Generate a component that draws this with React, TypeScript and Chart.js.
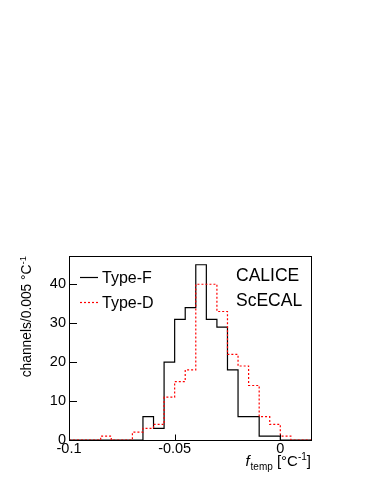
import React, { useEffect, useRef } from "react";
import { Chart, registerables } from "chart.js";

Chart.register(...registerables);

// ---- data ----
const binLow = -0.1;
const binWidth = 0.005;
const xMin = -0.1;
const xMax = 0.015;
const yMin = 0;
const yMax = 47.25;
const typeF = [0, 0, 0, 0, 0, 0, 0, 6, 3, 20, 31, 34, 45, 31, 29, 18, 6, 6, 1, 1, 0, 0, 0];
const typeD = [0, 0, 0, 1, 0, 0, 2, 3, 4, 11, 15, 18, 40, 40, 33, 22, 19, 14, 6, 4, 1, 0, 0];
const xTicks = [-0.1, -0.05, 0];
const yTicks = [0, 10, 20, 30, 40];
const seriesNames = ["Type-F", "Type-D"];
const labelLines = ["CALICE", "ScECAL"];

const FONT = "'Liberation Sans', Arial, Helvetica, sans-serif";

function toSteps(counts: number[]) {
  const pts = counts.map((c, i) => ({ x: binLow + i * binWidth, y: c }));
  pts.push({ x: binLow + counts.length * binWidth, y: counts[counts.length - 1] });
  return pts;
}

const decorPlugin = {
  id: "decor",
  afterDraw(chart: any) {
    const ctx = chart.ctx as CanvasRenderingContext2D;
    const { left, right, top, bottom } = chart.chartArea;
    const xs = chart.scales.x;
    const ys = chart.scales.y;
    ctx.save();
    // frame
    ctx.strokeStyle = "#000";
    ctx.lineWidth = 1;
    ctx.setLineDash([]);
    ctx.strokeRect(left + 0.5, top + 0.5, right - left - 1, bottom - top);
    // inward ticks
    ctx.beginPath();
    for (const v of yTicks) {
      const y = Math.round(ys.getPixelForValue(v)) + 0.5;
      ctx.moveTo(left, y);
      ctx.lineTo(left + 8, y);
    }
    for (const v of xTicks) {
      const x = Math.round(xs.getPixelForValue(v)) + 0.5;
      ctx.moveTo(x, bottom);
      ctx.lineTo(x, bottom - 5.5);
    }
    ctx.stroke();

    // legend
    const legendX0 = 80;
    const legendX1 = 98;
    const legendRows = [277, 302];
    ctx.font = `16px ${FONT}`;
    ctx.fillStyle = "#000";
    ctx.textBaseline = "alphabetic";
    ctx.textAlign = "left";
    chart.data.datasets.forEach((ds: any, i: number) => {
      const y = legendRows[i] + 0.5;
      ctx.strokeStyle = ds.borderColor;
      ctx.lineWidth = ds.borderWidth;
      ctx.setLineDash(ds.borderDash || []);
      ctx.beginPath();
      ctx.moveTo(legendX0, y);
      ctx.lineTo(legendX1, y);
      ctx.stroke();
      ctx.setLineDash([]);
      ctx.fillText(ds.label, 102, legendRows[i] + 5.5);
    });

    // CALICE label
    ctx.font = `17.5px ${FONT}`;
    ctx.fillText(labelLines[0], 236, 281);
    ctx.fillText(labelLines[1], 236, 305.5);

    // x title: f_temp [°C^-1]
    const mainF = `15px ${FONT}`;
    const italF = `italic 15px ${FONT}`;
    const subF = `10px ${FONT}`;
    const base = 466;
    const parts = [
      { t: "f", f: italF, dy: 0 },
      { t: "temp", f: subF, dy: 3.5 },
      { t: " [°C", f: mainF, dy: 0 },
      { t: "-1", f: subF, dy: -6 },
      { t: "]", f: mainF, dy: 0 },
    ];
    let total = 0;
    for (const p of parts) {
      ctx.font = p.f;
      total += ctx.measureText(p.t).width + (p.t === "f" ? 1 : 0);
    }
    let cx = right - 1 - total;
    for (const p of parts) {
      ctx.font = p.f;
      ctx.fillText(p.t, cx, base + p.dy);
      cx += ctx.measureText(p.t).width + (p.t === "f" ? 1 : 0);
    }

    // y title: channels/0.005 °C^-1 (rotated)
    const yParts = [
      { t: "channels/0.005 °C", f: `13.8px ${FONT}`, dy: 0 },
      { t: "-1", f: `9.5px ${FONT}`, dy: -5.5 },
    ];
    let ytot = 0;
    for (const p of yParts) {
      ctx.font = p.f;
      ytot += ctx.measureText(p.t).width;
    }
    ctx.translate(31, 256);
    ctx.rotate(-Math.PI / 2);
    let yx = -ytot;
    for (const p of yParts) {
      ctx.font = p.f;
      ctx.fillText(p.t, yx, p.dy);
      yx += ctx.measureText(p.t).width;
    }
    ctx.restore();
  },
};

export default function App() {
  const ref = useRef<HTMLCanvasElement | null>(null);
  useEffect(() => {
    if (!ref.current) return;
    const chart = new Chart(ref.current, {
      type: "line",
      data: {
        datasets: [
          {
            label: seriesNames[0],
            data: toSteps(typeF),
            borderColor: "#000000",
            borderWidth: 1.2,
            pointRadius: 0,
            stepped: true,
            fill: false,
            order: 1,
          },
          {
            label: seriesNames[1],
            data: toSteps(typeD),
            borderColor: "#ff0000",
            borderWidth: 1.2,
            borderDash: [2, 2],
            pointRadius: 0,
            stepped: true,
            fill: false,
            order: 0,
          },
        ],
      },
      options: {
        animation: false,
        responsive: false,
        devicePixelRatio: 1,
        layout: { padding: { left: 0, top: 256, right: 62, bottom: 0 } },
        plugins: {
          legend: { display: false },
          tooltip: { enabled: false },
        },
        scales: {
          x: {
            type: "linear",
            min: xMin,
            max: xMax,
            afterBuildTicks: (s: any) => {
              s.ticks = xTicks.map((v) => ({ value: v }));
            },
            afterFit: (s: any) => {
              s.height = 44;
            },
            ticks: {
              autoSkip: false,
              maxRotation: 0,
              minRotation: 0,
              padding: 0,
              color: "#000",
              font: { family: FONT, size: 14.5 },
              callback: (v: any) => String(v),
            },
            grid: { display: false, drawTicks: false },
            border: { display: false },
          },
          y: {
            type: "linear",
            min: yMin,
            max: yMax,
            afterBuildTicks: (s: any) => {
              s.ticks = yTicks.map((v) => ({ value: v }));
            },
            afterFit: (s: any) => {
              s.width = 69;
            },
            ticks: {
              padding: 3,
              color: "#000",
              font: { family: FONT, size: 14.5 },
              callback: (v: any) => String(v),
            },
            grid: { display: false, drawTicks: false },
            border: { display: false },
          },
        },
      },
      plugins: [decorPlugin],
    } as any);
    return () => chart.destroy();
  }, []);
  return (
    <div style={{ position: "absolute", left: 0, top: 0, width: 374, height: 484 }}>
      <canvas ref={ref} width={374} height={484} style={{ display: "block", width: 374, height: 484 }} />
    </div>
  );
}
